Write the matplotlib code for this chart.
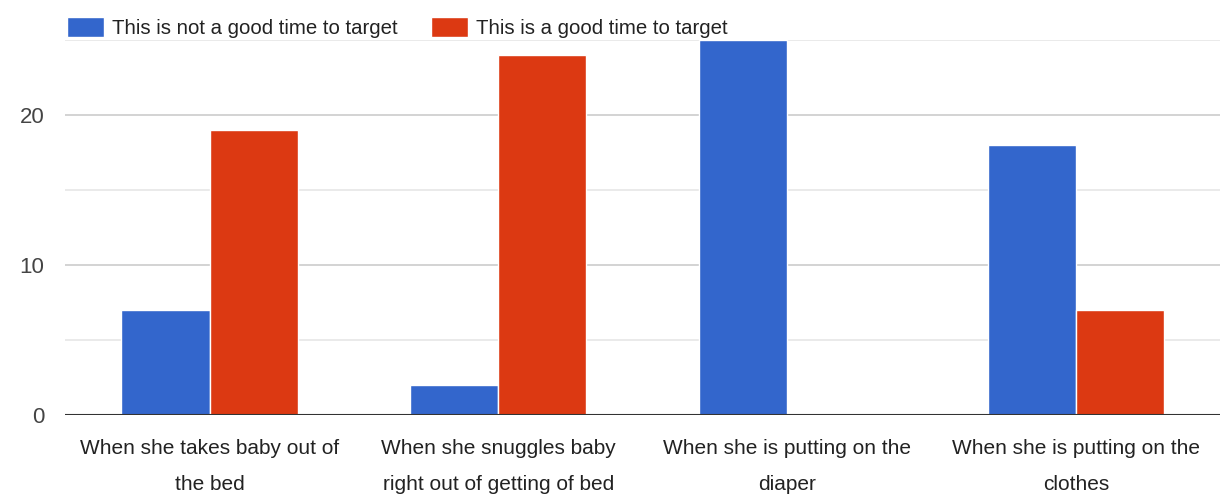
import matplotlib.pyplot as plt
import numpy as np

categories = ["When she takes baby out of\nthe bed",
              "When she snuggles baby\nright out of getting of bed",
              "When she is putting on the\ndiaper",
              "When she is putting on the\nclothes"]
not_good = [7, 2, 25, 18]
good = [19, 24, 0, 7]
series_names = ["This is not a good time to target", "This is a good time to target"]

plt.rcParams['font.family'] = ['Liberation Sans', 'DejaVu Sans']

fig = plt.figure(figsize=(12.3, 4.99), dpi=100)
ax = fig.add_axes([0.053, 0.168, 0.939, 0.752])

x = np.arange(len(categories))
w = 0.305
ax.bar(x - w / 2, not_good, w, color='#3366cc', edgecolor='white', linewidth=1, zorder=3, label=series_names[0])
ax.bar(x + w / 2, good, w, color='#dc3912', edgecolor='white', linewidth=1, zorder=3, label=series_names[1])

ax.set_xlim(-0.5, 3.5)
ax.set_ylim(0, 25)
ax.set_yticks([0, 10, 20])
ax.set_yticks([5, 15, 25], minor=True)
ax.grid(axis='y', which='major', color='#cccccc', linewidth=1.2, zorder=0)
ax.grid(axis='y', which='minor', color='#e6e6e6', linewidth=1.2, zorder=0)
ax.axhline(0, color='#333333', linewidth=1.5, zorder=4)

ax.set_xticks(x)
ax.set_xticklabels(categories, fontsize=15, color='#222222', linespacing=2.15)
ax.tick_params(axis='x', length=0, pad=17)
ax.tick_params(axis='y', which='both', length=0, labelsize=16, labelcolor='#444444', pad=15)
for s in ax.spines.values():
    s.set_visible(False)

leg = ax.legend(loc='lower left', bbox_to_anchor=(0.0, 1.0), ncol=2, frameon=False,
                fontsize=14.7, handlelength=1.8, handleheight=1.15, handletextpad=0.39,
                columnspacing=1.63, borderaxespad=0.1, borderpad=0.0)
for t in leg.get_texts():
    t.set_color('#222222')

fig.savefig('out.png', dpi=100)
